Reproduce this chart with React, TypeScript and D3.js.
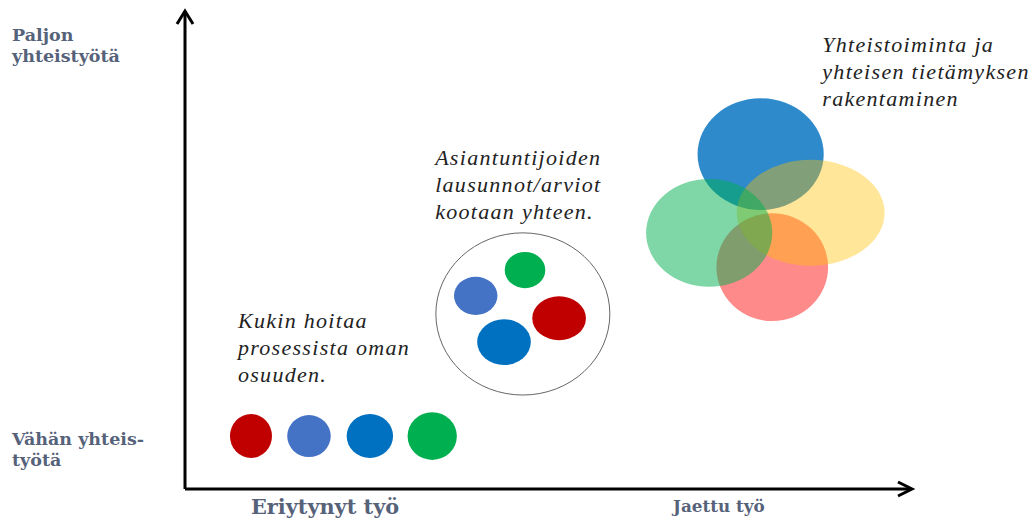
import React, { useEffect, useRef } from 'react';
import * as d3 from 'd3';

// diagram space: 0..100 on both axes
const soloX = [9.1, 17.1, 25.5, 34.1];
const soloY = [11.1, 11.1, 11.1, 11.1];
const soloRx = [2.9, 3.0, 3.2, 3.4];
const soloRy = [4.6, 4.4, 4.6, 5.0];
const soloColors = ['#c00000', '#4472c4', '#0070c0', '#00b050'];

const poolX = [46.9, 40.1, 51.6, 44.0];
const poolY = [45.9, 40.5, 35.8, 30.8];
const poolRx = [2.8, 3.0, 3.7, 3.7];
const poolRy = [3.8, 4.0, 4.6, 4.8];
const poolColors = ['#00b050', '#4472c4', '#c00000', '#0070c0'];
const poolRing = { x: 46.6, y: 36.7, rx: 12.0, ry: 17.0 };

const shareX = [79.4, 81.0, 86.3, 72.3];
const shareY = [70.2, 46.5, 57.9, 53.7];
const shareRx = [8.7, 7.7, 10.2, 8.7];
const shareRy = [11.7, 11.3, 11.1, 11.3];
const shareColors = ['#0070c0', '#ff0000', '#ffc000', '#00b050'];
const shareOpacity = [0.82, 0.46, 0.4, 0.5];

const notes = [
    { x: 7.3, y: 33.8, lines: ['Kukin hoitaa', 'prosessista oman', 'osuuden.'] },
    { x: 34.5, y: 67.9, lines: ['Asiantuntijoiden', 'lausunnot/arviot', 'kootaan yhteen.'] },
    { x: 87.9, y: 91.6, lines: ['Yhteistoiminta ja', 'yhteisen tietämyksen', 'rakentaminen'] },
];

const App = () => {
    const ref = useRef<SVGSVGElement>(null);

    useEffect(() => {
        const svg = d3.select(ref.current);
        svg.selectAll('*').remove();

        const x = d3.scaleLinear().domain([0, 100]).range([185, 910]);
        const y = d3.scaleLinear().domain([0, 100]).range([489, 12]);
        const w = (v: number) => x(v) - x(0);
        const h = (v: number) => y(0) - y(v);

        const labelColor = '#56627a';

        // axes
        const axes = svg.append('g')
            .attr('stroke', '#000')
            .attr('stroke-width', 3)
            .attr('fill', 'none');
        axes.append('path')
            .attr('d', `M${x(0)},${y(0)}V${y(100) - 1}`);
        axes.append('path')
            .attr('d', `M${x(0)},${y(0)}H${x(100) + 1}`);
        axes.append('path')
            .attr('stroke-linejoin', 'miter')
            .attr('d', `M${x(0) - 8},${y(100) + 12}L${x(0)},${y(100) - 1}L${x(0) + 8},${y(100) + 12}`);
        axes.append('path')
            .attr('stroke-linejoin', 'miter')
            .attr('d', `M${x(100) - 12},${y(0) - 7}L${x(100) + 2},${y(0)}L${x(100) - 12},${y(0) + 7}`);

        // separate work
        svg.append('g').selectAll('ellipse')
            .data(soloX)
            .enter().append('ellipse')
            .attr('cx', (d: number) => x(d))
            .attr('cy', (d: number, i: number) => y(soloY[i]))
            .attr('rx', (d: number, i: number) => w(soloRx[i]))
            .attr('ry', (d: number, i: number) => h(soloRy[i]))
            .attr('fill', (d: number, i: number) => soloColors[i]);

        // pooled work
        svg.append('ellipse')
            .attr('cx', x(poolRing.x))
            .attr('cy', y(poolRing.y))
            .attr('rx', w(poolRing.rx))
            .attr('ry', h(poolRing.ry))
            .attr('fill', 'none')
            .attr('stroke', '#666')
            .attr('stroke-width', 1);
        svg.append('g').selectAll('ellipse')
            .data(poolX)
            .enter().append('ellipse')
            .attr('cx', (d: number) => x(d))
            .attr('cy', (d: number, i: number) => y(poolY[i]))
            .attr('rx', (d: number, i: number) => w(poolRx[i]))
            .attr('ry', (d: number, i: number) => h(poolRy[i]))
            .attr('fill', (d: number, i: number) => poolColors[i]);

        // shared work
        svg.append('g').selectAll('ellipse')
            .data(shareX)
            .enter().append('ellipse')
            .attr('cx', (d: number) => x(d))
            .attr('cy', (d: number, i: number) => y(shareY[i]))
            .attr('rx', (d: number, i: number) => w(shareRx[i]))
            .attr('ry', (d: number, i: number) => h(shareRy[i]))
            .attr('fill', (d: number, i: number) => shareColors[i])
            .attr('fill-opacity', (d: number, i: number) => shareOpacity[i]);

        // notes
        notes.forEach((n) => {
            const t = svg.append('text')
                .attr('x', x(n.x))
                .attr('y', y(n.y))
                .attr('font-family', '"Liberation Serif", serif')
                .attr('font-style', 'italic')
                .attr('font-size', 22)
                .attr('letter-spacing', 1.3)
                .attr('fill', '#222');
            n.lines.forEach((line, i) => {
                t.append('tspan')
                    .attr('x', x(n.x))
                    .attr('dy', i === 0 ? 0 : 27)
                    .text(line);
            });
        });

        // axis labels
        const bold = (tx: number, ty: number, lines: string[], size: number, gap: number) => {
            const t = svg.append('text')
                .attr('x', tx)
                .attr('y', ty)
                .attr('font-family', '"DejaVu Serif", serif')
                .attr('font-weight', 'bold')
                .attr('font-size', size)
                .attr('fill', labelColor);
            lines.forEach((line, i) => {
                t.append('tspan')
                    .attr('x', tx)
                    .attr('dy', i === 0 ? 0 : gap)
                    .text(line);
            });
        };
        bold(12, 41, ['Paljon', 'yhteistyötä'], 17.5, 21);
        bold(12, 445, ['Vähän yhteis-', 'työtä'], 17.5, 21);
        bold(251, 514, ['Eriytynyt työ'], 20.8, 0);
        bold(673, 512, ['Jaettu työ'], 16.8, 0);
    }, []);

    return (
        <svg ref={ref} width={1035} height={524}
            style={{ position: 'absolute', left: 0, top: 0, background: '#fff' }} />
    );
};

export default App;
